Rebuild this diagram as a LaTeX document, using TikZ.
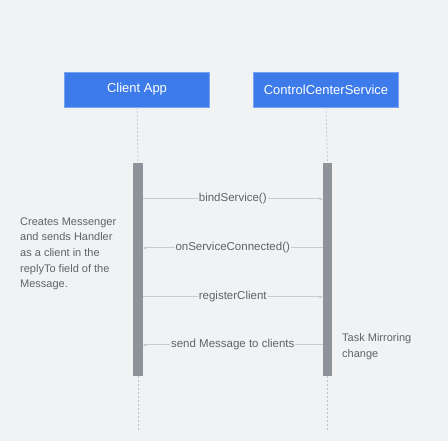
\documentclass[tikz,border=0pt]{standalone}
\usepackage{fontspec}
\setmainfont{Liberation Sans}
\usetikzlibrary{arrows.meta}
\definecolor{bg}{HTML}{F1F2F4}
\definecolor{boxblue}{HTML}{3D7BEA}
\definecolor{boxedge}{HTML}{78A3F0}
\definecolor{bargray}{HTML}{8E9399}
\definecolor{linegray}{HTML}{C9CCCF}
\definecolor{txtgray}{HTML}{5F6368}
\definecolor{lifegray}{HTML}{BDC1C6}
\tikzset{
  actor/.style={draw=boxedge, fill=boxblue, text=white, minimum width=145pt, minimum height=35pt, inner sep=0pt, font=\fontsize{13}{15}\selectfont},
  bar/.style={draw=none, fill=bargray, minimum width=9.5pt, minimum height=213pt, inner sep=0pt},
  life/.style={draw=lifegray, dash pattern=on 2pt off 2pt, line width=0.7pt},
  msg/.style={draw=linegray, line width=1pt, -{Stealth[length=4pt,width=3pt,fill=bargray]}},
  lbl/.style={fill=bg, text=txtgray, inner sep=1pt, font=\fontsize{11.5}{13}\selectfont},
  note/.style={text=txtgray, align=left, anchor=north west, inner sep=0pt, font=\fontsize{11}{15.6}\selectfont}
}
\begin{document}
\begin{tikzpicture}[x=1pt,y=-1pt]
\fill[bg] (0,0) rectangle (448,441);
\useasboundingbox (0,0) rectangle (448,441);
\node[actor] (ca) at (137,89.5) {Client App};
\node[actor] (cc) at (326,89.5) {ControlCenterService};
\node[bar] (lb) at (138,269.5) {};
\node[bar] (rb) at (327.5,269.5) {};
\coordinate (lend) at (138,432);
\coordinate (rend) at (327.5,432);
\draw[life] (ca.south) -- (lb.north);
\draw[life] (cc.south) -- (rb.north);
\draw[life] (lb.south) -- (lend);
\draw[life] (rb.south) -- (rend);
\coordinate (l1) at (142.75,199); \coordinate (r1) at (322.75,199);
\coordinate (l2) at (142.75,248); \coordinate (r2) at (322.75,248);
\coordinate (l3) at (142.75,297); \coordinate (r3) at (322.75,297);
\coordinate (l4) at (142.75,345); \coordinate (r4) at (322.75,345);
\draw[msg] (l1) -- node[lbl] {bindService()} (r1);
\draw[msg] (r2) -- node[lbl] {onServiceConnected()} (l2);
\draw[msg] (l3) -- node[lbl] {registerClient} (r3);
\draw[msg] (r4) -- node[lbl] {send Message to clients} (l4);
\node[note] (n1) at (20,217.5) {Creates Messenger\\and sends Handler\\as a client in the\\replyTo field of the\\Message.};
\node[note] (n2) at (342,333.5) {Task Mirroring\\change};
\end{tikzpicture}
\end{document}
